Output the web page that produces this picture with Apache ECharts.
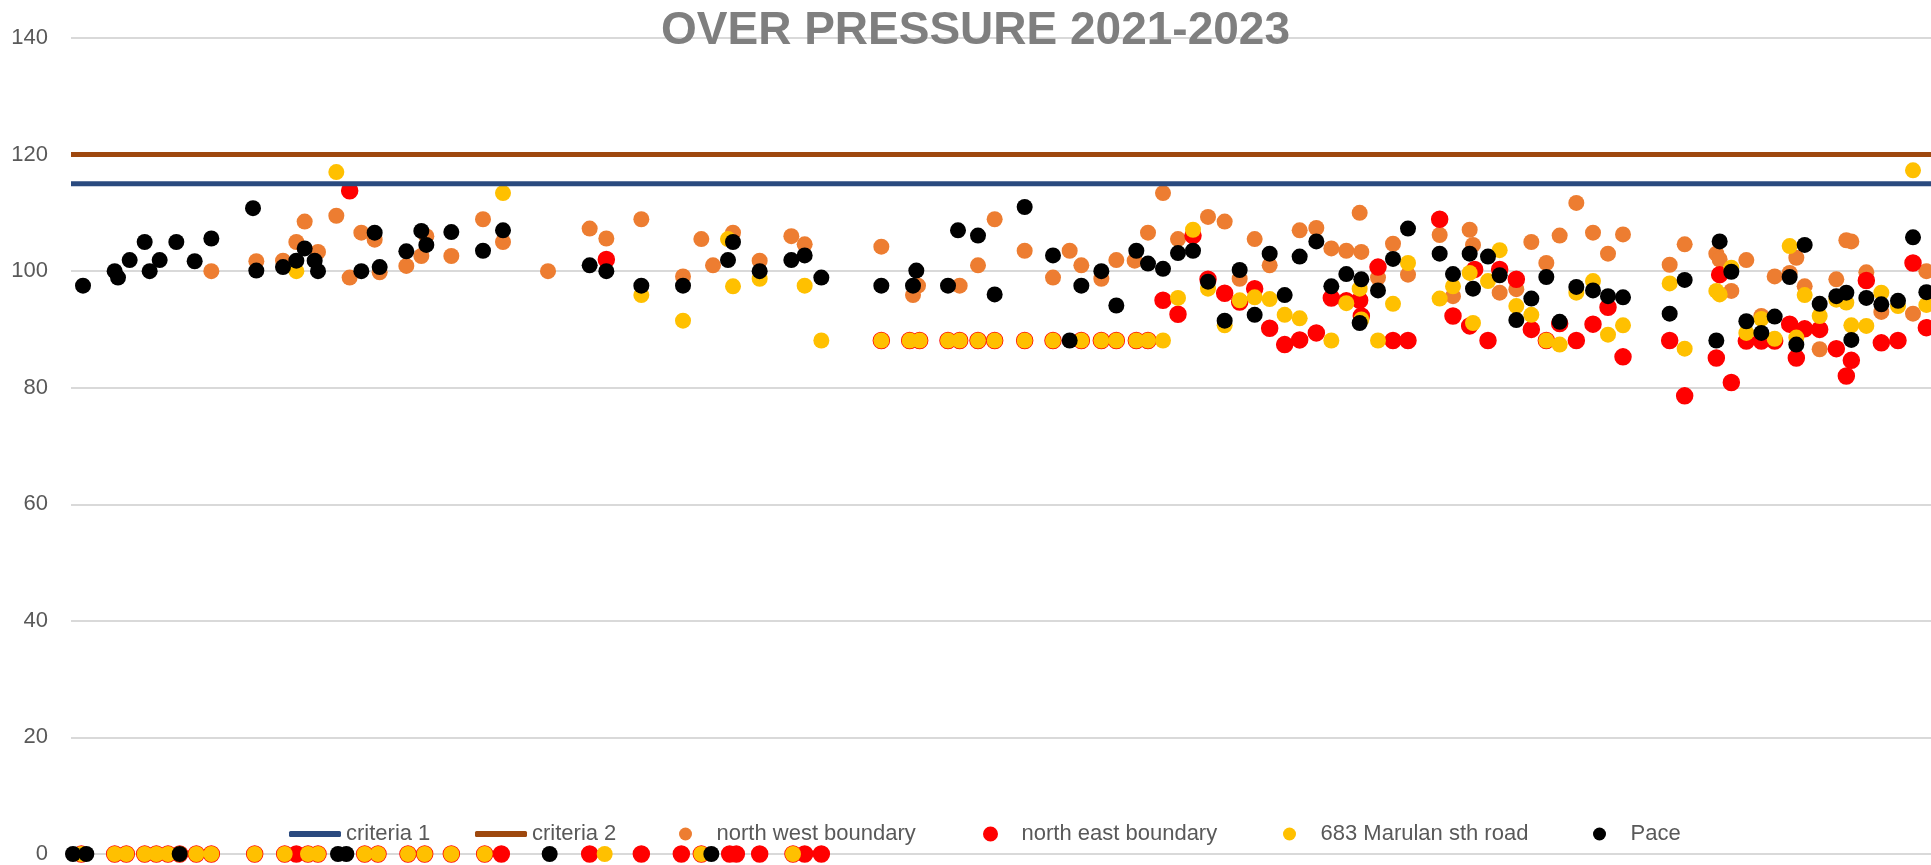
<!DOCTYPE html>
<html>
<head>
<meta charset="utf-8">
<script src="https://cdn.jsdelivr.net/npm/echarts@6/dist/echarts.min.js"></script>
<style>
  html, body { margin: 0; padding: 0; background: #fff; }
  #main { width: 1931px; height: 865px; }
</style>
</head>
<body>
<div id="main"></div>
<script>
// x = day number across 2021-2023, y = over pressure
var criteria1 = 115;
var criteria2 = 120;

var northWest = [
  [95,100],[122,101.7],[138,101.8],[146,105],[151,108.5],[159,103.3],[170,109.5],[178,98.9],[185,106.6],[193,105.4],
  [196,99.8],[212,100.9],[221,102.6],[224,106],[239,102.6],[258,108.9],[270,105],
  [297,100],[322,107.3],[332,105.6],[353,108.9],[378,99.1],[389,105.5],[396,101],[408,106.6],[424,101.8],[443,106],
  [451,104.6],[497,104.2],[516,95.9],[519,97.5],[544,97.5],[555,101],
  [565,108.9],[583,103.5],[600,98.9],[610,103.5],[617,101],[629,98.7],[638,101.9],[649,101.8],[657,106.6],[666,113.4],
  [675,105.5],[693,109.3],[703,108.5],[712,98.7],[721,105.5],[730,101],[748,107],[758,107.4],[767,103.9],[776,103.5],
  [784,110],[785,103.3],[795,98.9],[804,104.7],[813,99.4],[832,106.2],[840,95.7],
  [850,107.1],[852,104.5],[868,96.3],[878,96.9],[887,105],[896,101.4],[904,106.1],[914,111.7],[924,106.6],[933,103],
  [942,106.3],[970,101.1],[979,104.6],[998,103],[1000,102],[1007,96.6],[1016,101.9],[1025,92.3],[1033,99.1],[1042,99.7],
  [1046,102.3],[1051,97.4],[1060,86.6],[1070,98.6],[1076,105.3],[1079,105.1],[1088,99.8],[1097,93],[1116,92.7],[1124,100]
];

var northEast = [
  [178,113.8],[332,102],
  [666,95],[675,92.6],[684,106.1],[693,98.6],[703,96.2],[712,94.7],[721,97],[730,90.2],[739,87.4],[748,88.2],
  [758,89.4],[767,95.4],[776,94.9],[784,95],[785,92.3],[795,100.7],[804,88.1],[813,88.1],[832,108.9],[840,92.3],
  [850,90.6],[853,100.3],[861,88.1],[868,100.3],[878,98.6],[887,90],[896,88.1],[904,91],[914,88.1],[924,90.9],
  [933,93.8],[942,85.3],[970,88.1],[979,78.6],[998,85.1],[1000,99.4],[1007,80.9],[1016,88],[1025,88],[1033,88],
  [1042,90.9],[1046,85.1],[1051,90.1],[1060,90],[1070,86.7],[1076,82],[1079,84.7],[1088,98.4],[1097,87.7],[1107,88.1],
  [1116,101.4],[1124,90.3]
];

var marulan = [
  [146,100],[170,117],[270,113.4],
  [353,95.9],[378,91.5],[405,105.5],[408,97.4],[424,98.7],[451,97.5],[461,88.1],[666,88.1],
  [675,95.4],[684,107.1],[693,97],[703,90.7],[712,95],[721,95.5],[730,95.2],[739,92.5],[748,91.9],[767,88.1],
  [776,94.5],[784,97],[785,91.7],[795,88.1],[804,94.4],[813,101.4],[832,95.3],[840,97.4],
  [850,99.7],[852,91.1],[861,98.3],[868,103.6],[878,94],[887,92.5],[896,88.1],[904,87.4],[914,96.3],[924,98.3],
  [933,89.1],[942,90.7],[970,97.9],[979,86.7],[998,96.6],[1000,96],[1007,100.6],[1016,89.4],[1025,91.8],[1033,88.4],
  [1042,104.3],[1046,88.6],[1051,95.9],[1060,92.3],[1070,95.1],[1076,94.6],[1079,90.7],[1088,90.6],[1097,96.3],
  [1107,94],[1116,117.3],[1124,94.2]
];

var pace = [
  [18,97.5],[37,100],[39,98.9],[46,101.9],[55,105],[58,100],[64,101.9],[74,105],[85,101.7],[95,105.6],[120,110.8],
  [122,100.1],[138,100.7],[146,101.8],[151,103.9],[157,101.8],[159,100],[185,100],[193,106.6],[196,100.7],[212,103.4],
  [221,106.9],[224,104.5],[239,106.7],[258,103.5],[270,107],
  [322,101],[332,100],[353,97.5],[378,97.5],[405,101.9],[408,105],[424,100],[443,101.9],[451,102.7],[461,98.9],
  [497,97.5],[516,97.5],[518,100.1],[537,97.5],[543,107],[555,106.1],
  [565,96],[583,111],[600,102.7],[610,88.1],[617,97.5],[629,100],[638,94.1],[650,103.5],[657,101.3],[666,100.4],
  [675,103.1],[684,103.5],[693,98.2],[703,91.5],[712,100.2],[721,92.5],[730,103],[739,95.9],[748,102.5],[758,105.1],
  [767,97.4],[776,99.5],[784,91.1],[785,98.6],[795,96.7],[804,102.1],[813,107.3],[832,103],[840,99.5],
  [850,103],[852,97],[861,102.5],[868,99.3],[878,91.6],[887,95.3],[896,99],[904,91.3],[914,97.3],[924,96.7],
  [933,95.7],[942,95.5],[970,92.7],[979,98.5],[998,88.1],[1000,105.1],[1007,99.9],[1016,91.4],[1025,89.4],[1033,92.2],
  [1042,99],[1046,87.4],[1051,104.5],[1060,94.4],[1070,95.7],[1076,96.3],[1079,88.2],[1088,95.4],[1097,94.3],
  [1107,94.9],[1116,105.8],[1124,96.4]
];

// days where north east and Marulan both read 88
var shared88Days = [497,514,520,537,544,555,565,583,600,617,629,638,650,657];
// days with zero readings
var sharedZeroDays = [17,37,44,55,62,69,76,86,95,121,139,153,159,187,195,213,223,239,259,389,444];
var eastZeroDays = [146,269,322,353,377,406,410,424,451,461];
var marulanZeroDays = [331];
var paceZeroDays = [12,20,76,171,176,298,395];

var yTicks = { min: 0, max: 140, interval: 20 };
var xRange = { min: 10.8, max: 1126.8 };

function at(days, v) {
  return days.map(function (d) { return [d, v]; });
}

var font = "'Liberation Sans', Arial, sans-serif";
var chart = echarts.init(document.getElementById('main'), null, { renderer: 'canvas' });

function legendAt(name, left, icon, h) {
  return {
    data: [{ name: name, icon: icon }],
    left: left,
    top: 816,
    itemWidth: 52,
    itemHeight: h,
    selectedMode: false,
    textStyle: { color: '#595959', fontSize: 22, fontFamily: font, lineHeight: 26 }
  };
}

var scatterBase = {
  type: 'scatter',
  symbol: 'circle',
  symbolSize: 16,
  clip: false,
  emphasis: { disabled: true }
};

chart.setOption({
  animation: false,
  title: {
    text: 'OVER PRESSURE 2021-2023',
    left: 656,
    top: 3,
    textStyle: { color: '#7f7f7f', fontSize: 46, fontWeight: 'bold', fontFamily: font }
  },
  legend: [
    legendAt('criteria 1', 284, 'roundRect', 6),
    legendAt('criteria 2', 470, 'roundRect', 6),
    legendAt('north west boundary', 674, 'circle', 13),
    legendAt('north east boundary', 978, 'circle', 13),
    legendAt('683 Marulan sth road', 1278, 'circle', 13),
    legendAt('Pace', 1588, 'circle', 13)
  ],
  grid: { left: 71, right: 0, top: 38, bottom: 10, containLabel: false },
  xAxis: {
    type: 'value',
    min: xRange.min,
    max: xRange.max,
    show: false,
    splitLine: { show: false }
  },
  yAxis: {
    type: 'value',
    min: yTicks.min,
    max: yTicks.max,
    interval: yTicks.interval,
    axisLine: { show: false },
    axisTick: { show: false },
    axisLabel: { color: '#595959', fontSize: 22, fontFamily: font, margin: 23 },
    splitLine: { lineStyle: { color: '#d9d9d9', width: 2 } }
  },
  series: [
    {
      name: 'criteria 1',
      type: 'line',
      symbol: 'none',
      color: '#2a4a7f',
      lineStyle: { color: '#2a4a7f', width: 5 },
      data: [[xRange.min, criteria1], [xRange.max, criteria1]]
    },
    {
      name: 'criteria 2',
      type: 'line',
      symbol: 'none',
      color: '#9e480e',
      lineStyle: { color: '#9e480e', width: 5 },
      data: [[xRange.min, criteria2], [xRange.max, criteria2]]
    },
    Object.assign({}, scatterBase, {
      name: 'north west boundary',
      itemStyle: { color: '#ed7d31', opacity: 1 },
      data: northWest
    }),
    Object.assign({}, scatterBase, {
      name: 'north east boundary',
      itemStyle: { color: '#ff0000', borderColor: '#ff0000', borderWidth: 1.5, opacity: 1 },
      data: northEast.concat(at(shared88Days, 88.1), at(sharedZeroDays, 0), at(eastZeroDays, 0))
    }),
    Object.assign({}, scatterBase, {
      name: '683 Marulan sth road',
      itemStyle: { color: '#ffc000', opacity: 1 },
      data: marulan.concat(at(shared88Days, 88.1), at(sharedZeroDays, 0), at(marulanZeroDays, 0))
    }),
    Object.assign({}, scatterBase, {
      name: 'Pace',
      itemStyle: { color: '#000000', opacity: 1 },
      data: pace.concat(at(paceZeroDays, 0))
    })
  ]
});
</script>
</body>
</html>
